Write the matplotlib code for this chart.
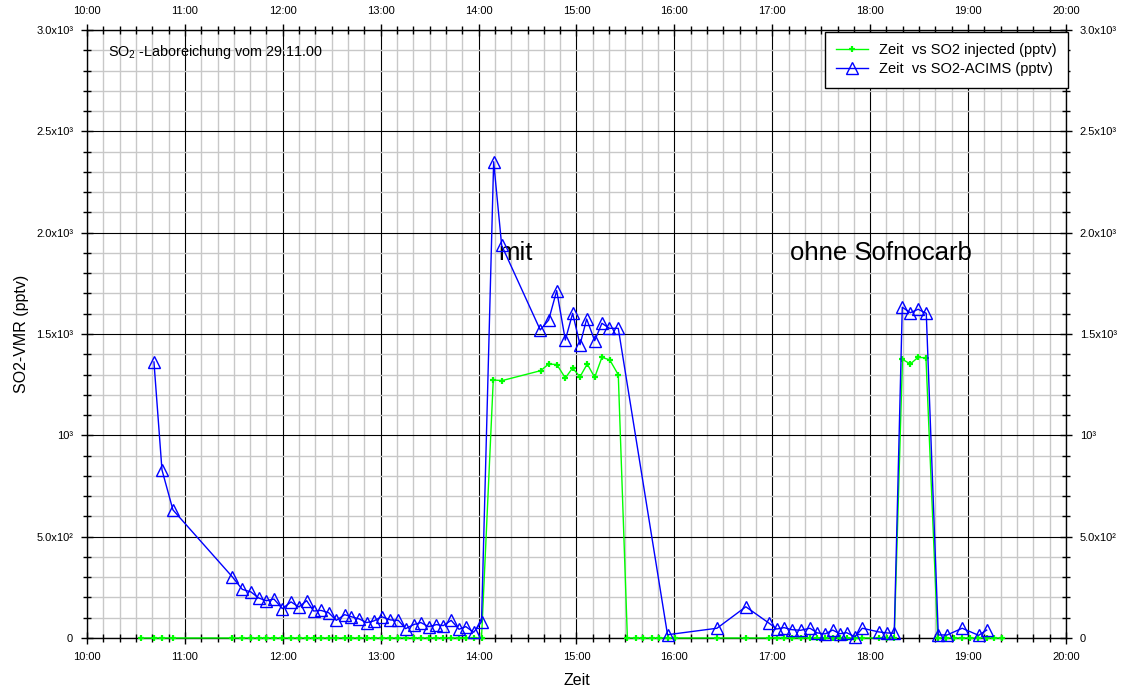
import numpy as np
import matplotlib
matplotlib.use("Agg")
from matplotlib import pyplot as plt
from matplotlib.ticker import FixedLocator, MultipleLocator

plt.rcParams["font.family"] = ["Liberation Sans", "DejaVu Sans"]
plt.rcParams["mathtext.fontset"] = "custom"
plt.rcParams["mathtext.rm"] = "Liberation Sans"

# time in decimal hours, values in pptv
t_acims = [10.684, 10.766, 10.878,
           11.484, 11.586, 11.675, 11.754, 11.832, 11.91, 11.995, 12.084,
           12.165, 12.244, 12.315, 12.39, 12.468, 12.547, 12.632, 12.70,
           12.78, 12.857, 12.93, 13.01, 13.10, 13.18, 13.255, 13.337, 13.41,
           13.49, 13.57, 13.64, 13.72, 13.80, 13.87, 13.95, 14.03,
           14.154, 14.236, 14.63, 14.716, 14.798, 14.886, 14.961, 15.036,
           15.104, 15.186, 15.26, 15.335, 15.427,
           15.93,
           16.435, 16.73, 16.97, 17.045, 17.12, 17.20, 17.29, 17.385, 17.46,
           17.54, 17.617, 17.69, 17.76, 17.845, 17.92, 18.087, 18.17, 18.246,
           18.328, 18.41, 18.49, 18.573,
           18.696, 18.787, 18.94, 19.108, 19.19]
v_acims = [1362, 829, 632,
           302, 240, 227, 197, 184, 192, 145, 178, 153, 184, 133, 136, 125,
           87, 115, 105, 94, 76, 84, 105, 89, 87, 46, 66, 76, 56, 66, 61, 87,
           43, 56, 28, 80,
           2350, 1937, 1520, 1569, 1714, 1470, 1602, 1447, 1574, 1467, 1553,
           1528, 1528,
           16,
           48, 154, 72, 44, 51, 41, 38, 48, 25, 20, 39, 21, 26, 6, 48, 30, 25,
           23,
           1632, 1605, 1622, 1602,
           15, 15, 48, 13, 39]

t_inj = [10.548, 10.684, 10.766, 10.878,
         11.484, 11.586, 11.675, 11.754, 11.832, 11.91, 11.995, 12.084,
         12.165, 12.244, 12.315, 12.39, 12.468, 12.547, 12.632, 12.70,
         12.78, 12.857, 12.93, 13.01, 13.10, 13.18, 13.255, 13.337, 13.41,
         13.49, 13.57, 13.64, 13.72, 13.80, 13.87, 13.95, 14.03,
         14.15, 14.24, 14.634, 14.716, 14.80, 14.886, 14.96, 15.036, 15.11,
         15.186, 15.26, 15.34, 15.427,
         15.52, 15.61, 15.68, 15.77, 15.84, 15.93, 16.006, 16.435, 16.73,
         16.97, 17.045, 17.12, 17.20, 17.29, 17.385, 17.46, 17.54, 17.617,
         17.69, 17.76, 17.845, 17.92, 18.087, 18.17, 18.246,
         18.33, 18.41, 18.49, 18.57,
         18.69, 18.77, 18.86, 18.94, 19.02, 19.10, 19.19, 19.27, 19.35]
v_inj = ([0] * 37
         + [1273, 1270, 1319, 1352, 1349, 1283, 1332, 1289, 1352, 1286, 1385,
            1372, 1299]
         + [0] * 25
         + [1375, 1352, 1385, 1382]
         + [0] * 9)

x_ticks = list(range(10, 21))
x_ticklabels = [f"{h}:00" for h in x_ticks]
y_ticks = [0, 500, 1000, 1500, 2000, 2500, 3000]
y_ticklabels = ["0", "5.0x10²", "10³", "1.5x10³", "2.0x10³", "2.5x10³",
                "3.0x10³"]

fig = plt.figure(figsize=(11.21, 6.93), dpi=100)
ax = fig.add_axes([0.0776, 0.0794, 0.8733, 0.8773])

ax.plot(t_inj, v_inj, color="#00ff00", lw=1, marker="+", ms=4, mew=1.6,
        label="Zeit  vs SO2 injected (pptv)", clip_on=False, zorder=3)
ax.plot(t_acims, v_acims, color="#0000ff", lw=1, marker="^", ms=8,
        mfc="none", mec="#0000ff", mew=1,
        label="Zeit  vs SO2-ACIMS (pptv)", clip_on=False, zorder=4)

ax.set_xlim(10, 20)
ax.set_ylim(0, 3000)
ax.xaxis.set_major_locator(FixedLocator(x_ticks))
ax.set_xticklabels(x_ticklabels)
ax.xaxis.set_minor_locator(MultipleLocator(1 / 6))
ax.yaxis.set_major_locator(FixedLocator(y_ticks))
ax.set_yticklabels(y_ticklabels)
ax.yaxis.set_minor_locator(MultipleLocator(100))

ax.grid(which="minor", color="#c8c8c8", lw=1)
ax.grid(which="major", color="black", lw=0.8)
ax.set_axisbelow(True)

ax.tick_params(which="both", direction="inout", top=True, right=True,
               labeltop=True, labelright=True, labelsize=8, pad=6)
ax.tick_params(which="major", length=8, width=1)
ax.tick_params(which="minor", length=6, width=1)
for s in ax.spines.values():
    s.set_linewidth(1)

ax.set_xlabel("Zeit", fontsize=11.5, labelpad=8)
ax.set_ylabel("SO2-VMR (pptv)", fontsize=11.5, labelpad=5)

ax.text(0.0215, 0.964, r"SO$_\mathregular{2}$ -Laboreichung vom 29.11.00",
        transform=ax.transAxes, fontsize=10.4, va="center", ha="left")
ax.text(14.2, 1900, "mit", fontsize=18.5, va="center", ha="left")
ax.text(17.18, 1900, "ohne Sofnocarb", fontsize=18.5, va="center", ha="left")

leg = ax.legend(loc="upper right", bbox_to_anchor=(1.002, 0.997),
                borderaxespad=0, fancybox=False, fontsize=10.5,
                handlelength=2.2, handletextpad=0.7, labelspacing=0.3,
                borderpad=0.8, edgecolor="black", framealpha=1)
leg.get_frame().set_linewidth(1)

fig.savefig("out.png", dpi=100)
